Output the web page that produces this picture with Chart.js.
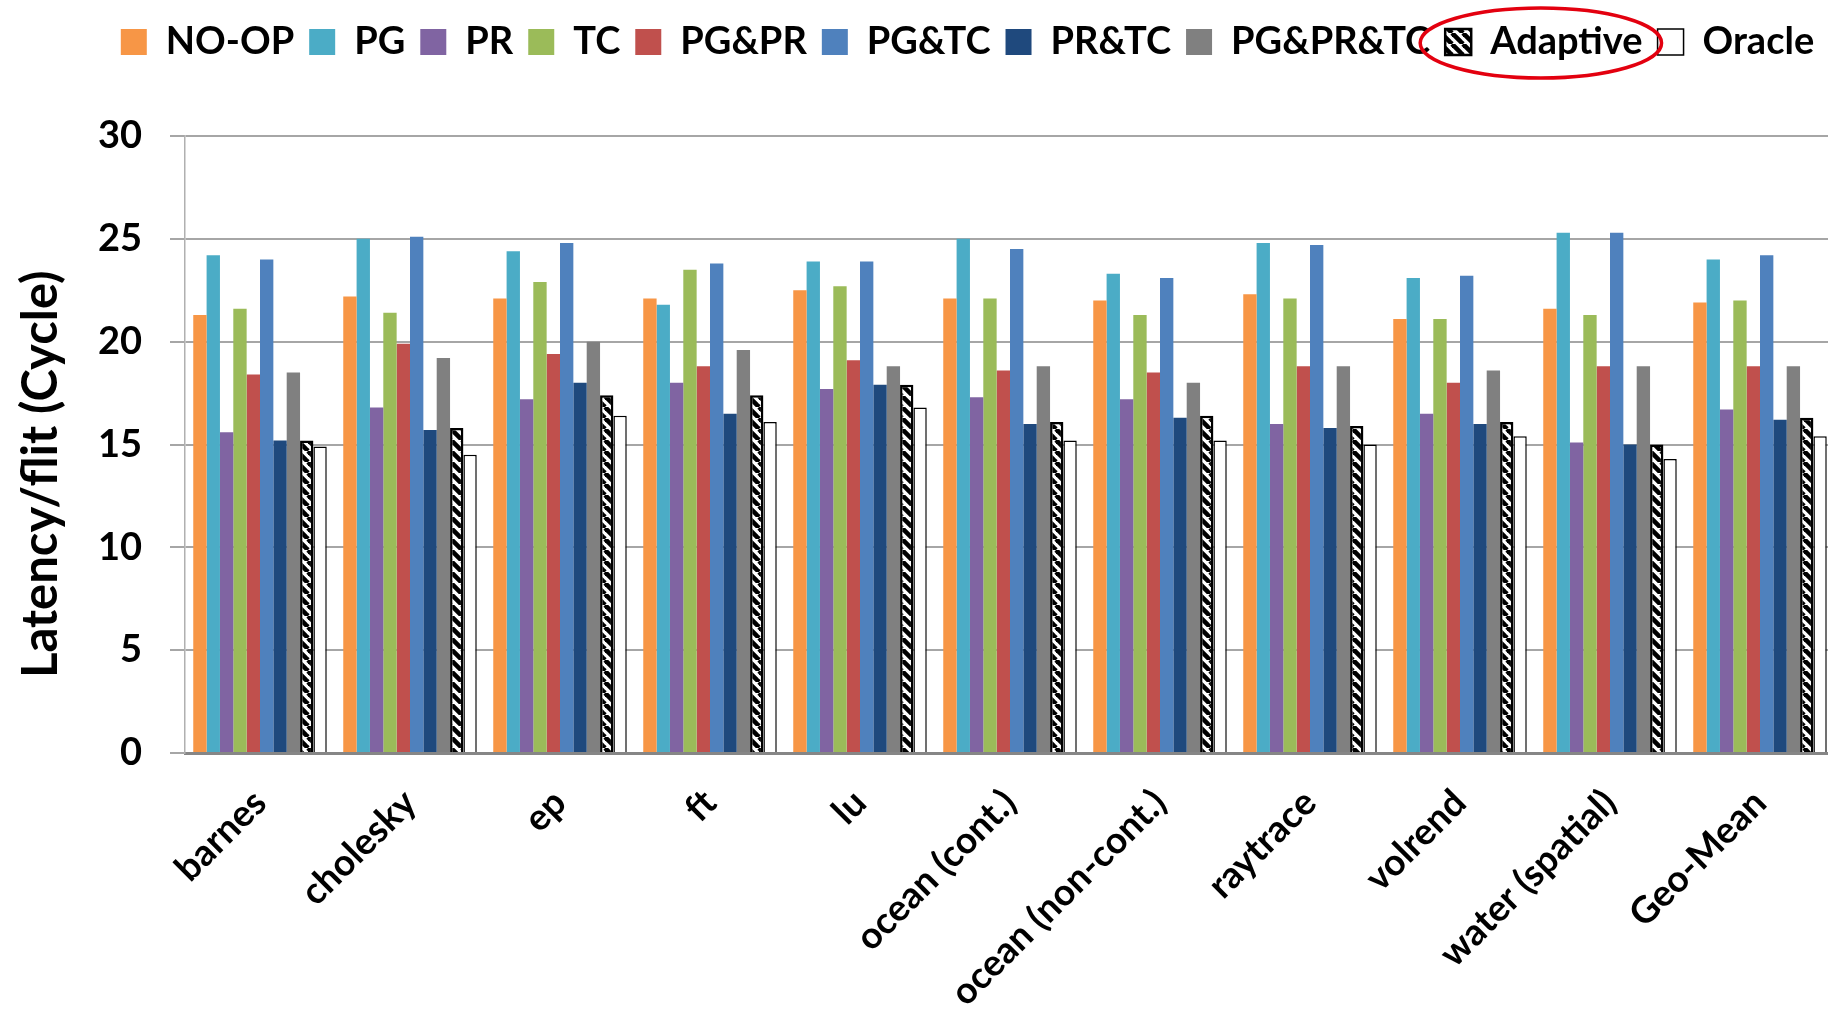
<!DOCTYPE html>
<html>
<head>
<meta charset="utf-8">
<script src="https://cdn.jsdelivr.net/npm/chart.js@4.4.1/dist/chart.umd.min.js"></script>
<style>
  html, body { margin: 0; padding: 0; background: #ffffff; overflow: hidden; }
  #wrap { width: 1828px; height: 1017px; overflow: hidden; position: relative; }
  canvas { display: block; }
</style>
</head>
<body>
<div id="wrap"><canvas id="c" width="1900" height="1017"></canvas></div>
<script>
// ---- data ----
const categories = ["barnes", "cholesky", "ep", "ft", "lu", "ocean (cont.)", "ocean (non-cont.)", "raytrace", "volrend", "water (spatial)", "Geo-Mean"];
const seriesNames = ["NO-OP", "PG", "PR", "TC", "PG&PR", "PG&TC", "PR&TC", "PG&PR&TC", "Adaptive", "Oracle"];
const noOp      = [21.3, 22.2, 22.1, 22.1, 22.5, 22.1, 22.0, 22.3, 21.1, 21.6, 21.9];
const pg        = [24.2, 25.0, 24.4, 21.8, 23.9, 25.0, 23.3, 24.8, 23.1, 25.3, 24.0];
const pr        = [15.6, 16.8, 17.2, 18.0, 17.7, 17.3, 17.2, 16.0, 16.5, 15.1, 16.7];
const tc        = [21.6, 21.4, 22.9, 23.5, 22.7, 22.1, 21.3, 22.1, 21.1, 21.3, 22.0];
const pgPr      = [18.4, 19.9, 19.4, 18.8, 19.1, 18.6, 18.5, 18.8, 18.0, 18.8, 18.8];
const pgTc      = [24.0, 25.1, 24.8, 23.8, 23.9, 24.5, 23.1, 24.7, 23.2, 25.3, 24.2];
const prTc      = [15.2, 15.7, 18.0, 16.5, 17.9, 16.0, 16.3, 15.8, 16.0, 15.0, 16.2];
const pgPrTc    = [18.5, 19.2, 20.0, 19.6, 18.8, 18.8, 18.0, 18.8, 18.6, 18.8, 18.8];
const adaptive  = [15.2, 15.8, 17.4, 17.4, 17.9, 16.1, 16.4, 15.9, 16.1, 15.0, 16.3];
const oracle    = [14.9, 14.5, 16.4, 16.1, 16.8, 15.2, 15.2, 15.0, 15.4, 14.3, 15.4];
const yTicks    = [0, 5, 10, 15, 20, 25, 30];
const yTitle    = "Latency/flit (Cycle)";
const highlighted = "Adaptive";

// ---- styles ----
const colors = ["#F79646", "#4BACC6", "#8064A2", "#9BBB59", "#C0504D", "#4F81BD", "#1F497D", "#808080"];
function hatch() {
  const s = 11;
  const c = document.createElement("canvas");
  c.width = s; c.height = s;
  const x = c.getContext("2d");
  x.fillStyle = "#ffffff"; x.fillRect(0, 0, s, s);
  x.strokeStyle = "#000000"; x.lineWidth = 4.6;
  for (const k of [-s, 0, s]) { x.beginPath(); x.moveTo(k, 0); x.lineTo(k + s, s); x.stroke(); }
  return x.createPattern(c, "repeat");
}
const ctx = document.getElementById("c").getContext("2d");
const hatchPat = hatch();
const values = [noOp, pg, pr, tc, pgPr, pgTc, prTc, pgPrTc, adaptive, oracle];
const datasets = seriesNames.map((n, i) => {
  const d = { label: n, data: values[i], borderWidth: 0 };
  if (i < 8) { d.backgroundColor = colors[i]; d.borderColor = colors[i]; }
  else if (n === "Adaptive") { d.backgroundColor = hatchPat; d.borderColor = "#000000"; d.borderWidth = 2.5; }
  else { d.backgroundColor = "#ffffff"; d.borderColor = "#000000"; d.borderWidth = 1.5; }
  return d;
});

const FONT = "Lato, 'Open Sans', sans-serif";
const LEGEND_EXTRA = 65;   // gap below the legend
const LEGEND_SHIFT = 50;   // legend sits right of centre in the original

const layoutPlugin = {
  id: "legendLayout",
  beforeUpdate(chart) {
    const lg = chart.legend;
    if (lg && !lg._patched) {
      const orig = lg.fit;
      lg.fit = function () { orig.call(this); this.height += LEGEND_EXTRA; };
      lg._patched = true;
    }
  },
  afterUpdate(chart) {
    const lg = chart.legend;
    if (!lg) return;
    lg.left += LEGEND_SHIFT;
    lg.right += LEGEND_SHIFT;
    if (lg.legendHitBoxes) for (const hb of lg.legendHitBoxes) hb.left += LEGEND_SHIFT;
  },
  afterDraw(chart) {
    const lg = chart.legend;
    if (!lg || !lg.legendHitBoxes) return;
    const hb = lg.legendHitBoxes[seriesNames.indexOf(highlighted)];
    if (!hb) return;
    const c = chart.ctx;
    c.save();
    c.strokeStyle = "#E3000F";
    c.lineWidth = 3.5;
    c.beginPath();
    c.ellipse(hb.left + hb.width / 2 - 3, hb.top + hb.height / 2 + 1, hb.width / 2 + 22, 35, 0, 0, Math.PI * 2);
    c.stroke();
    c.restore();
  }
};

new Chart(ctx, {
  type: "bar",
  data: { labels: categories, datasets },
  plugins: [layoutPlugin],
  options: {
    responsive: false,
    animation: false,
    devicePixelRatio: 1,
    layout: { padding: { left: 0, right: 65, top: 8, bottom: 0 } },
    datasets: { bar: { categoryPercentage: 0.89, barPercentage: 1.0 } },
    plugins: {
      tooltip: { enabled: false },
      legend: {
        position: "top",
        align: "center",
        labels: {
          font: { family: FONT, size: 38, weight: "bold" },
          color: "#000000",
          boxWidth: 26,
          boxHeight: 26,
          padding: 15
        }
      }
    },
    scales: {
      x: {
        grid: { display: false, drawTicks: false },
        border: { display: true, color: "#868686", width: 3 },
        ticks: {
          minRotation: 45, maxRotation: 45, autoSkip: false,
          padding: 28,
          font: { family: FONT, size: 37, weight: "bold" },
          color: "#000000"
        },
        afterFit(scale) { scale.height = 264; }
      },
      y: {
        min: 0, max: 30,
        afterBuildTicks(scale) { scale.ticks = yTicks.map(v => ({ value: v })); },
        grid: { color: "#A6A6A6", lineWidth: 2, tickLength: 15, drawTicks: true },
        border: { display: true, color: "#B0B0B0", width: 1.5 },
        ticks: {
          padding: 28,
          font: { family: FONT, size: 38, weight: "bold" },
          color: "#000000"
        },
        title: {
          display: true, text: yTitle + "     ",
          font: { family: FONT, size: 49, weight: "bold" },
          color: "#000000",
          padding: { top: 12, bottom: 0 }
        },
        afterFit(scale) { scale.width = 185; }
      }
    }
  }
});
</script>
</body>
</html>
